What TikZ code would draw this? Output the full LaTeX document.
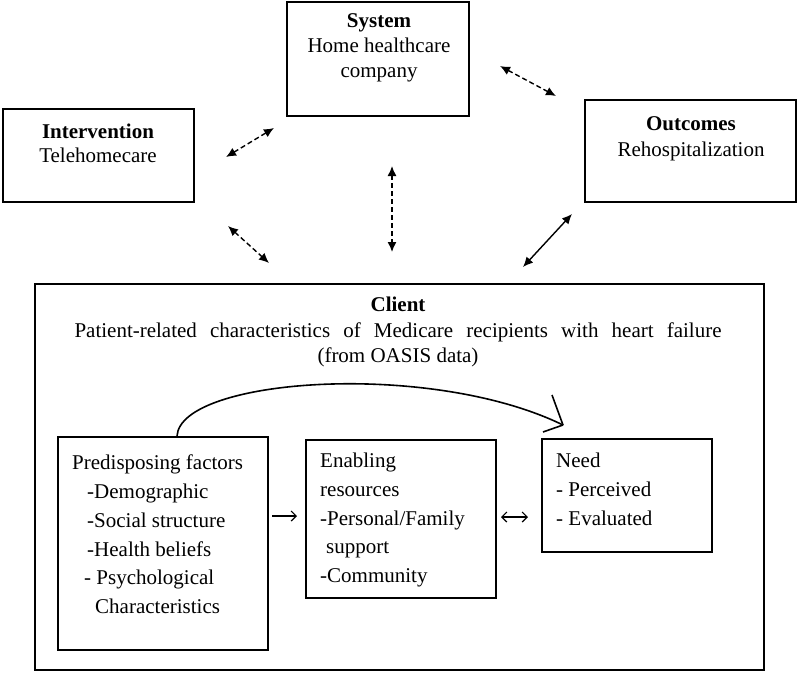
\documentclass[tikz,border=0pt]{standalone}
\usepackage{fontspec}
\setmainfont{Liberation Serif}
\usetikzlibrary{arrows.meta}
\begin{document}
\begin{tikzpicture}[x=1pt,y=-1pt,
  box/.style={draw,line width=1.6pt,inner sep=0pt},
  txt/.style={inner sep=0pt,font=\fontsize{21}{25}\selectfont,align=center},
  ltxt/.style={inner sep=0pt,font=\fontsize{21}{28.7}\selectfont,align=left,anchor=north west},
  dlink/.style={line width=1.4pt,dash pattern=on 5pt off 3pt,{Latex[length=10pt,width=9pt]}-{Latex[length=10pt,width=9pt]}},
  slink/.style={line width=1.4pt,{Latex[length=10pt,width=9pt]}-{Latex[length=10pt,width=9pt]}},
  thinarrow/.style={line width=1.2pt,-{Straight Barb[length=5pt,width=10pt]}},
  thinboth/.style={line width=1.2pt,{Straight Barb[length=5pt,width=10pt]}-{Straight Barb[length=5pt,width=10pt]}},
  curve/.style={line width=1.6pt},
]
\useasboundingbox (0,0) rectangle (800,673);
\fill[white] (0,0) rectangle (800,673);

% outer boxes
\node[box,minimum width=182,minimum height=114] (sys) at (378,59) {};
\node[box,minimum width=191,minimum height=93] (int) at (98.5,155.5) {};
\node[box,minimum width=211,minimum height=102] (out) at (690.5,151) {};
\node[box,minimum width=729,minimum height=386] (cli) at (399.5,477) {};

% inner boxes
\node[box,minimum width=210,minimum height=213] (pre) at (163,543.5) {};
\node[box,minimum width=190,minimum height=158] (ena) at (401,519) {};
\node[box,minimum width=170,minimum height=113] (need) at (627,495.5) {};

% texts
\node[txt] (systxt) at (379,48) {\textbf{System}\\Home healthcare\\company};
\node[txt,font=\fontsize{21}{24}\selectfont] (inttxt) at (98,143) {\textbf{Intervention}\\Telehomecare};
\node[txt,font=\fontsize{21}{26}\selectfont] (outtxt) at (691,139) {\textbf{Outcomes}\\Rehospitalization};
\node[txt,font=\fontsize{21}{25.5}\selectfont] (clitxt) at (398,332) {\textbf{Client}\\\makebox[647pt][s]{Patient-related characteristics of Medicare recipients with heart failure}\\(from OASIS data)};

\node[ltxt] (pretxt) at (72,455) {Predisposing factors\\
\hspace*{15pt}-Demographic\\
\hspace*{15pt}-Social structure\\
\hspace*{15pt}-Health beliefs\\
\hspace*{12pt}- Psychological\\
\hspace*{23pt}Characteristics};
\node[ltxt] (enatxt) at (320,453) {Enabling\\resources\\-Personal/Family\\\hspace*{6pt}support\\-Community};
\node[ltxt] (needtxt) at (556,453) {Need\\- Perceived\\- Evaluated};

% connector end points
\coordinate (a1) at (226,157); \coordinate (a2) at (274,128);
\coordinate (b1) at (500,66);  \coordinate (b2) at (556,96);
\coordinate (c1) at (392,166); \coordinate (c2) at (392,252);
\coordinate (d1) at (228,226); \coordinate (d2) at (269,263);
\coordinate (e1) at (572,214); \coordinate (e2) at (523,267);
\coordinate (f1) at (272,516); \coordinate (f2) at (297,516);
\coordinate (g1) at (501,517); \coordinate (g2) at (528,517);
\coordinate (tip) at (563,425);

\draw[dlink] (a1) -- (a2);
\draw[dlink] (b1) -- (b2);
\draw[dlink] (c1) -- (c2);
\draw[dlink] (d1) -- (d2);
\draw[slink] (e1) -- (e2);
\draw[thinarrow] (f1) -- (f2);
\draw[thinboth] (g1) -- (g2);

% curved arrow from predisposing to need
\draw[curve] (pre.north) ++(14,0) .. controls (180,378) and (430,360) .. (tip);
\draw[curve] (tip) -- ++(-11,-30);
\draw[curve] (tip) -- ++(-20,7);
\end{tikzpicture}
\end{document}
